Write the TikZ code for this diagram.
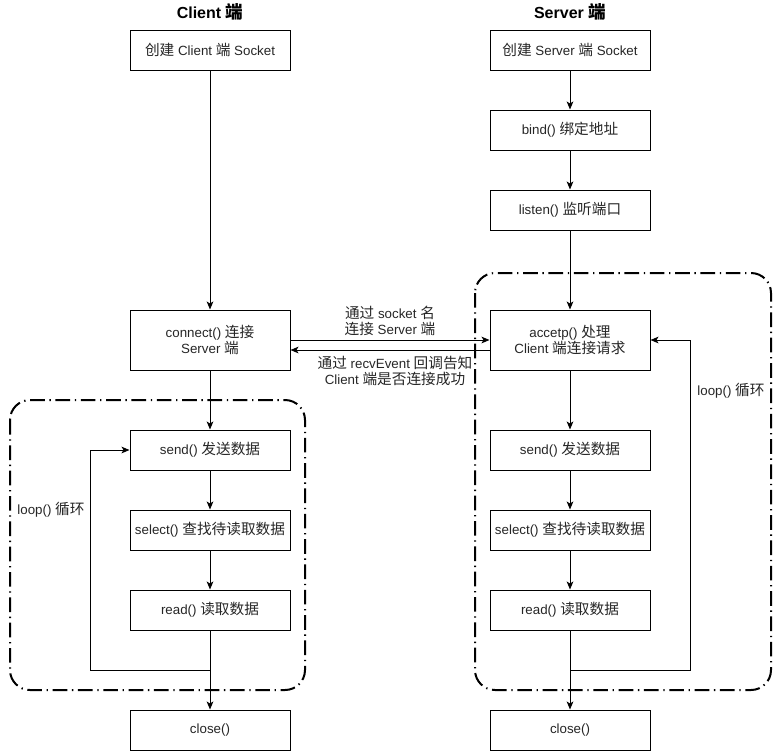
\documentclass[tikz,border=0pt]{standalone}
\usepackage{fontspec}
\setmainfont{Liberation Sans}
\newfontfamily\cjk[Scale=1.1]{Noto Sans CJK SC}
\newcommand\zh[1]{{\cjk #1}}
\usetikzlibrary{arrows.meta}
\begin{document}
\begin{tikzpicture}[x=0.75pt,y=-0.75pt,
  txt/.style={font=\fontsize{10}{12}\selectfont,text=black!85,align=center,inner sep=1pt},
  box/.style={txt,draw=black,fill=white,line width=0.75pt,minimum width=120pt,minimum height=30pt},
  tallbox/.style={box,minimum height=45pt},
  arr/.style={line width=0.75pt,-{Stealth[length=6pt,width=5pt,inset=1.5pt]}},
  grp/.style={line width=1.5pt,rounded corners=15pt,dash pattern=on 11pt off 3.5pt on 1pt off 3.5pt},
  title/.style={font=\fontsize{12}{14}\selectfont\bfseries}]
\useasboundingbox (0,0) rectangle (781,751);
% groups
\draw[grp] (10,400) rectangle (305,690);
\draw[grp] (475,273) rectangle (771,690);
% titles
\node[title] (tc) at (210,12) {Client \zh{端}};
\node[title] (ts) at (570,12) {Server \zh{端}};
% client column
\node[box] (lcreate) at (210,50) {\zh{创建} Client \zh{端} Socket};
\node[tallbox] (lconn) at (210,340) {connect() \zh{连接}\\Server \zh{端}};
\node[box] (lsend) at (210,450) {send() \zh{发送数据}};
\node[box] (lsel) at (210,530) {select() \zh{查找待读取数据}};
\node[box] (lread) at (210,610) {read() \zh{读取数据}};
\node[box] (lclose) at (210,730) {close()};
% server column
\node[box] (rcreate) at (570,50) {\zh{创建} Server \zh{端} Socket};
\node[box] (rbind) at (570,130) {bind() \zh{绑定地址}};
\node[box] (rlisten) at (570,210) {listen() \zh{监听端口}};
\node[tallbox] (racc) at (570,340) {accetp() \zh{处理}\\Client \zh{端连接请求}};
\node[box] (rsend) at (570,450) {send() \zh{发送数据}};
\node[box] (rsel) at (570,530) {select() \zh{查找待读取数据}};
\node[box] (rread) at (570,610) {read() \zh{读取数据}};
\node[box] (rclose) at (570,730) {close()};
% client arrows
\draw[arr] (lcreate) -- (lconn);
\draw[arr] (lconn) -- (lsend);
\draw[arr] (lsend) -- (lsel);
\draw[arr] (lsel) -- (lread);
\draw[arr] (lread) -- (lclose);
\coordinate (ljoin) at (210,670);
\draw[arr] (ljoin) -- (90,670) |- (lsend.west);
% server arrows
\draw[arr] (rcreate) -- (rbind);
\draw[arr] (rbind) -- (rlisten);
\draw[arr] (rlisten) -- (racc);
\draw[arr] (racc) -- (rsend);
\draw[arr] (rsend) -- (rsel);
\draw[arr] (rsel) -- (rread);
\draw[arr] (rread) -- (rclose);
\coordinate (rjoin) at (570,670);
\draw[arr] (rjoin) -- (690,670) |- (racc.east);
% between
\draw[arr] (lconn.east) -- (racc.west);
\draw[arr] ([yshift=-7.5pt]racc.west) -- ([yshift=-7.5pt]lconn.east);
\node[txt] (l1) at (390,321) {\zh{通过} socket \zh{名}\\\zh{连接} Server \zh{端}};
\node[txt] (l2) at (395,370.5) {\zh{通过} recvEvent \zh{回调告知}\\Client \zh{端是否连接成功}};
% loop labels
\node[txt,fill=white,inner sep=0.5pt] (loopl) at (51,510) {loop() \zh{循环}};
\node[txt,fill=white,inner sep=0.5pt] (loopr) at (731,391) {loop() \zh{循环}};
\end{tikzpicture}
\end{document}
